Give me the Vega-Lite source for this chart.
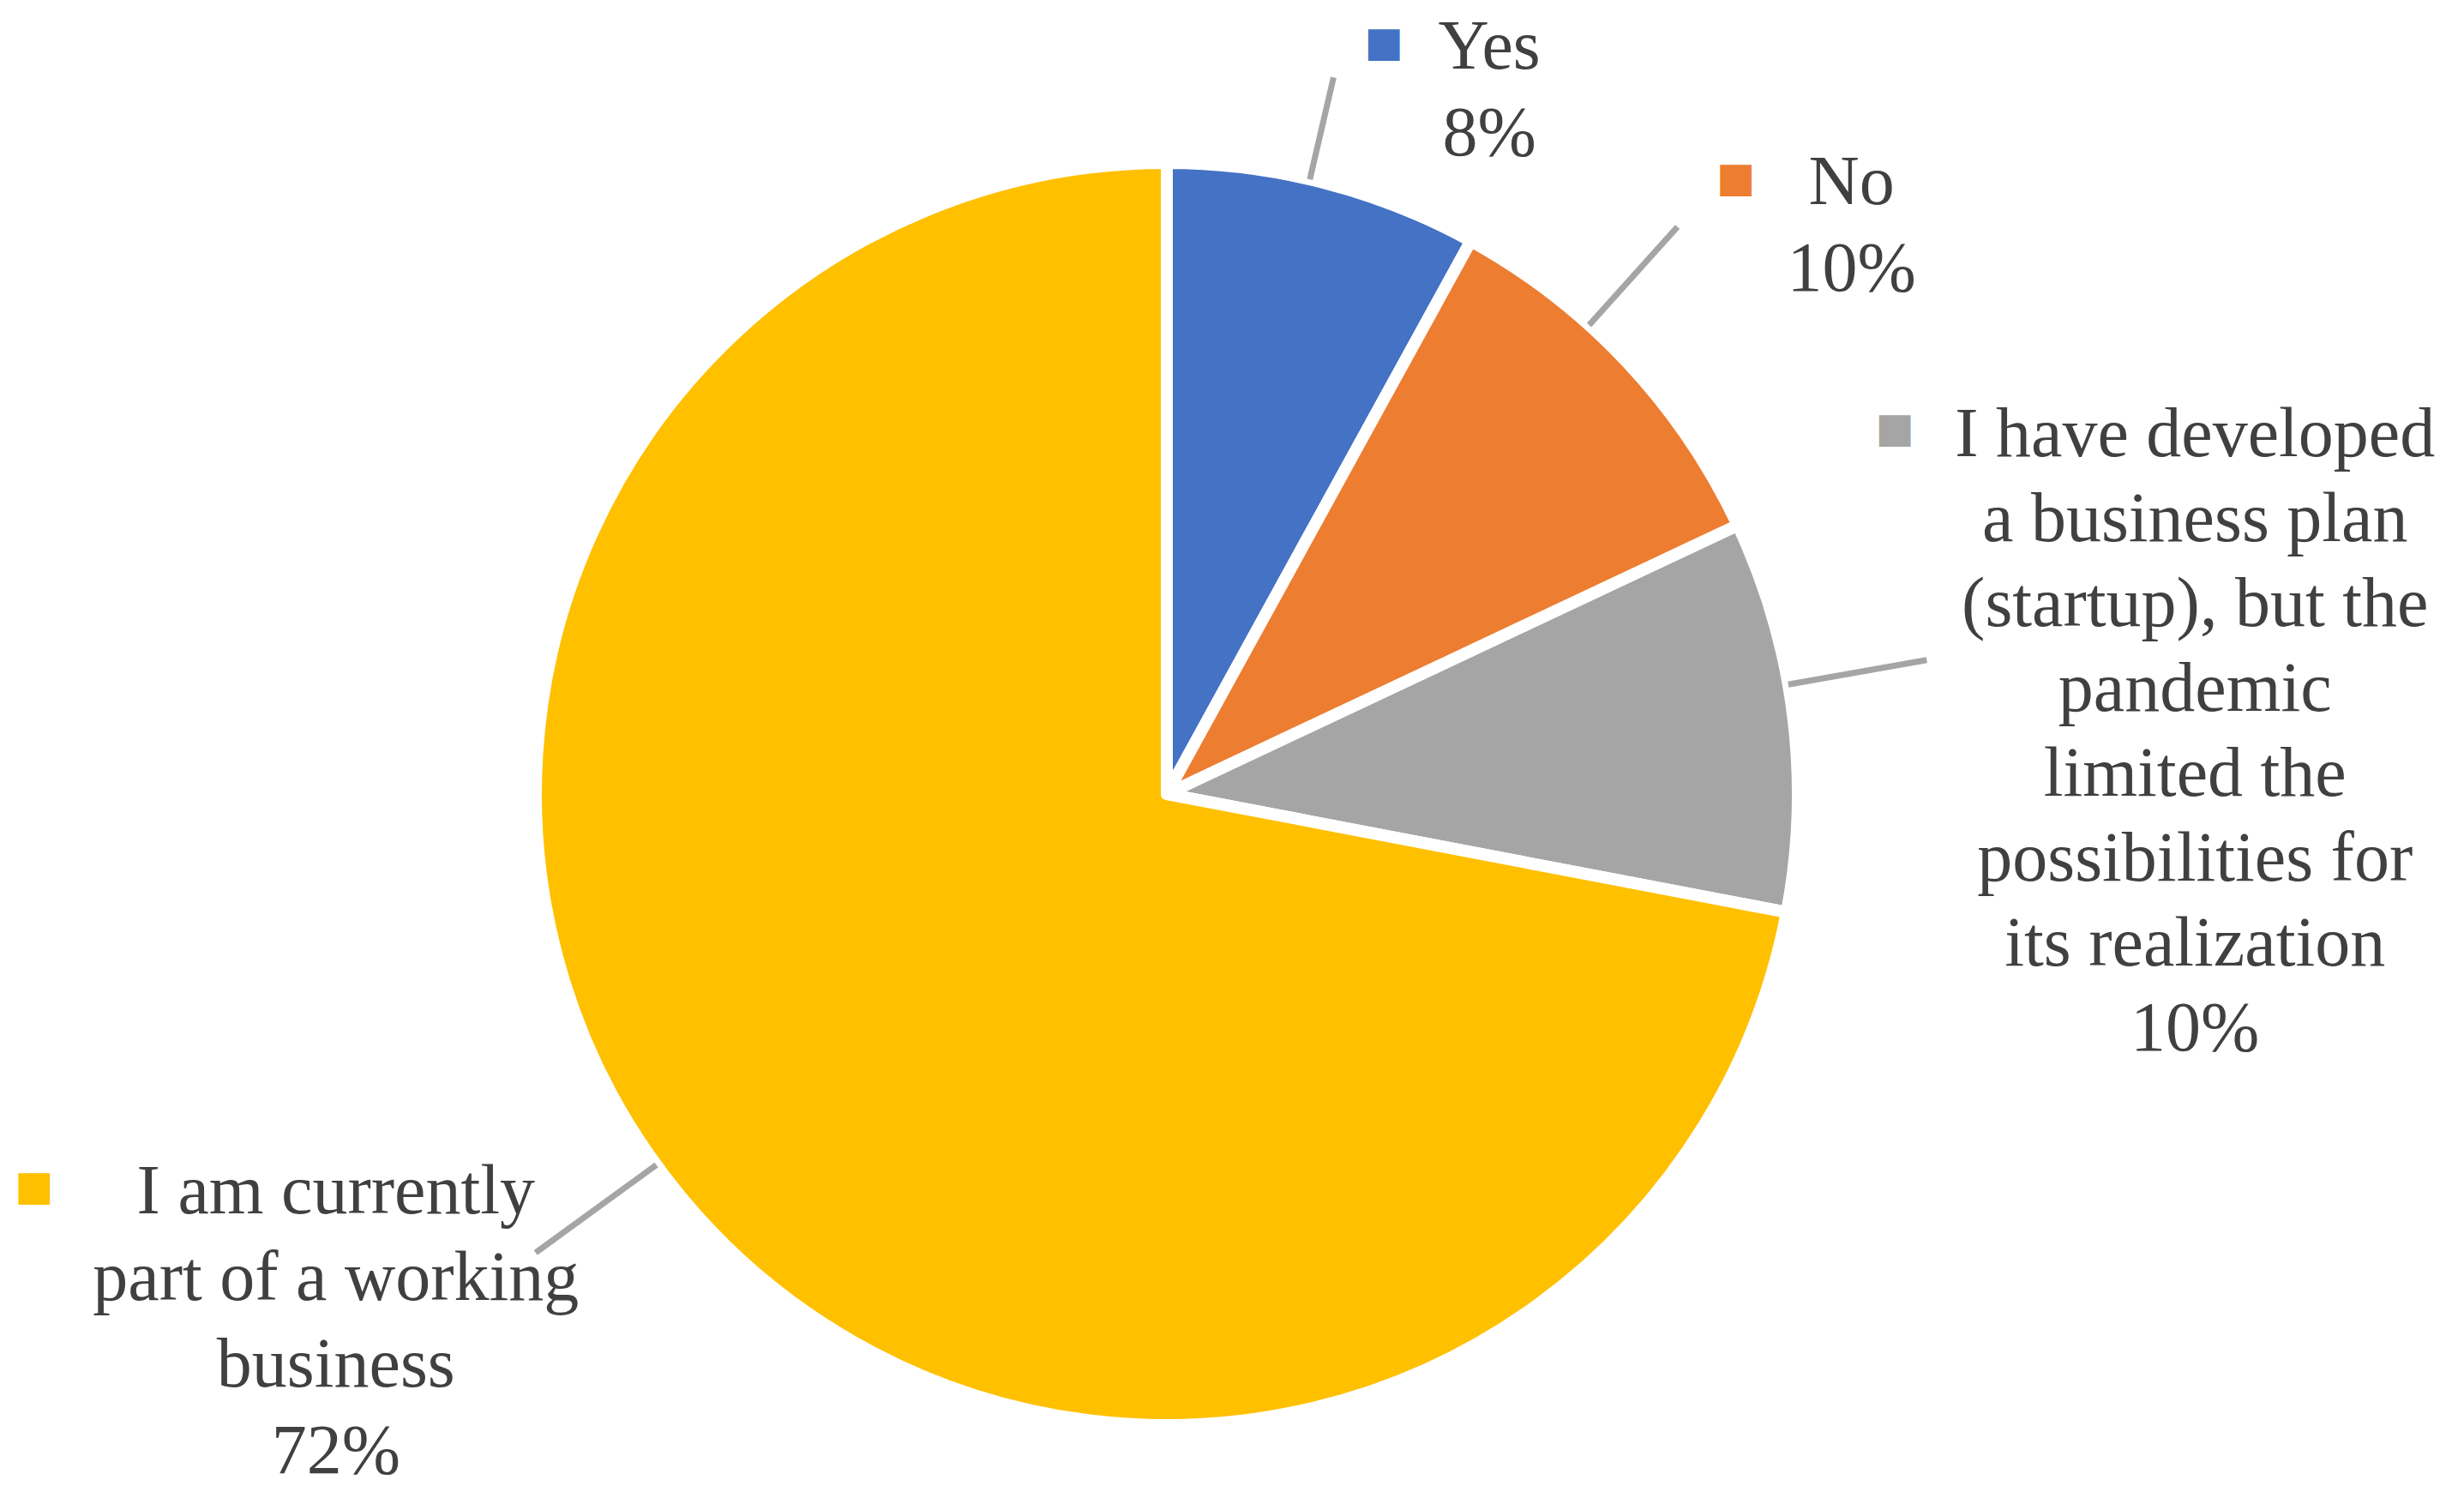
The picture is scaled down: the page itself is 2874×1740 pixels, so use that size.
{
  "$schema": "https://vega.github.io/schema/vega-lite/v6.json",
  "width": 2722,
  "height": 1628,
  "autosize": "none",
  "padding": {"left": 0, "top": 112, "right": 152, "bottom": 0},
  "background": "white",
  "config": {"view": {"stroke": null}},
  "data": {
    "values": [
      {"cat": "Yes", "value": 8, "idx": 1, "label": "Yes\n8%"},
      {"cat": "No", "value": 10, "idx": 2, "label": "No\n10%"},
      {"cat": "I have developed a business plan (startup), but the pandemic limited the possibilities for its realization", "value": 10, "idx": 3, "label": "I have developed\na business plan\n(startup), but the\npandemic\nlimited the\npossibilities for\nits realization\n10%"},
      {"cat": "I am currently part of a working business", "value": 72, "idx": 4, "label": "I am currently\npart of a working\nbusiness\n72%"}
    ]
  },
  "encoding": {
    "theta": {"field": "value", "type": "quantitative", "stack": true},
    "order": {"field": "idx", "type": "quantitative"},
    "detail": {"field": "cat", "type": "nominal"}
  },
  "layer": [
    {
      "mark": {"type": "arc", "radius": 736, "stroke": "white", "strokeWidth": 14, "strokeJoin": "round"},
      "encoding": {
        "color": {"field": "cat", "type": "nominal", "legend": null,
          "scale": {"domain": ["Yes", "No", "I have developed a business plan (startup), but the pandemic limited the possibilities for its realization", "I am currently part of a working business"],
                    "range": ["#4472C4", "#ED7D31", "#A5A5A5", "#FFC000"]}}
      }
    },
    {
      "transform": [
        {"stack": "value", "groupby": [], "sort": [{"field": "idx"}], "as": ["s0", "s1"]},
        {"filter": "datum.idx === 1"}
      ],
      "mark": {"type": "arc", "radius": 858, "radius2": 736, "thetaOffset": 0.22864, "theta2Offset": 0.22864, "stroke": "#A5A5A5", "strokeWidth": 7, "fill": "transparent"},
      "encoding": {
        "theta": {"field": "s0", "type": "quantitative", "stack": null},
        "theta2": {"field": "s0"}
      }
    },
    {
      "transform": [
        {"stack": "value", "groupby": [], "sort": [{"field": "idx"}], "as": ["s0", "s1"]},
        {"filter": "datum.idx === 2"}
      ],
      "mark": {"type": "arc", "radius": 890, "radius2": 736, "thetaOffset": 0.23038, "theta2Offset": 0.23038, "stroke": "#A5A5A5", "strokeWidth": 7, "fill": "transparent"},
      "encoding": {
        "theta": {"field": "s0", "type": "quantitative", "stack": null},
        "theta2": {"field": "s0"}
      }
    },
    {
      "transform": [
        {"stack": "value", "groupby": [], "sort": [{"field": "idx"}], "as": ["s0", "s1"]},
        {"filter": "datum.idx === 3"}
      ],
      "mark": {"type": "arc", "radius": 900, "radius2": 736, "thetaOffset": 0.26529, "theta2Offset": 0.26529, "stroke": "#A5A5A5", "strokeWidth": 7, "fill": "transparent"},
      "encoding": {
        "theta": {"field": "s0", "type": "quantitative", "stack": null},
        "theta2": {"field": "s0"}
      }
    },
    {
      "transform": [
        {"stack": "value", "groupby": [], "sort": [{"field": "idx"}], "as": ["s0", "s1"]},
        {"filter": "datum.idx === 4"}
      ],
      "mark": {"type": "arc", "radius": 910, "radius2": 736, "thetaOffset": 2.32478, "theta2Offset": 2.32478, "stroke": "#A5A5A5", "strokeWidth": 7, "fill": "transparent"},
      "encoding": {
        "theta": {"field": "s0", "type": "quantitative", "stack": null},
        "theta2": {"field": "s0"}
      }
    },
    {
      "mark": {"type": "text", "radius": 913, "dx": 149, "dy": 38, "align": "center", "baseline": "alphabetic", "font": "Liberation Serif", "fontSize": 82, "lineHeight": 101, "lineBreak": "\n", "fill": "#404040"},
      "encoding": {"text": {"condition": {"test": "datum.idx === 1", "field": "label", "type": "nominal"}, "value": ""}}
    },
    {
      "mark": {"type": "text", "radius": 1053, "dx": 31, "dy": 33, "align": "center", "baseline": "alphabetic", "font": "Liberation Serif", "fontSize": 82, "lineHeight": 101, "lineBreak": "\n", "fill": "#404040"},
      "encoding": {"text": {"condition": {"test": "datum.idx === 2", "field": "label", "type": "nominal"}, "value": ""}}
    },
    {
      "mark": {"type": "text", "radius": 1239, "dx": -30, "dy": -239, "align": "center", "baseline": "alphabetic", "font": "Liberation Serif", "fontSize": 82, "lineHeight": 99, "lineBreak": "\n", "fill": "#404040"},
      "encoding": {"text": {"condition": {"test": "datum.idx === 3", "field": "label", "type": "nominal"}, "value": ""}}
    },
    {
      "mark": {"type": "text", "radius": 1058, "dx": -154, "dy": -185, "align": "center", "baseline": "alphabetic", "font": "Liberation Serif", "fontSize": 82, "lineHeight": 101, "lineBreak": "\n", "fill": "#404040"},
      "encoding": {"text": {"condition": {"test": "datum.idx === 4", "field": "label", "type": "nominal"}, "value": ""}}
    },
    {
      "mark": {"type": "text", "radius": 913, "dx": 26, "dy": 9, "align": "center", "baseline": "middle", "font": "DejaVu Sans", "fontSize": 48},
      "encoding": {
        "text": {"condition": {"test": "datum.idx === 1", "value": "■"}, "value": ""},
        "color": {"field": "cat", "type": "nominal", "legend": null}
      }
    },
    {
      "mark": {"type": "text", "radius": 1053, "dx": -104, "dy": 4, "align": "center", "baseline": "middle", "font": "DejaVu Sans", "fontSize": 48},
      "encoding": {
        "text": {"condition": {"test": "datum.idx === 2", "value": "■"}, "value": ""},
        "color": {"field": "cat", "type": "nominal", "legend": null}
      }
    },
    {
      "mark": {"type": "text", "radius": 1239, "dx": -380, "dy": -270, "align": "center", "baseline": "middle", "font": "DejaVu Sans", "fontSize": 48},
      "encoding": {
        "text": {"condition": {"test": "datum.idx === 3", "value": "■"}, "value": ""},
        "color": {"field": "cat", "type": "nominal", "legend": null}
      }
    },
    {
      "mark": {"type": "text", "radius": 1058, "dx": -506, "dy": -215, "align": "center", "baseline": "middle", "font": "DejaVu Sans", "fontSize": 48},
      "encoding": {
        "text": {"condition": {"test": "datum.idx === 4", "value": "■"}, "value": ""},
        "color": {"field": "cat", "type": "nominal", "legend": null}
      }
    }
  ]
}
